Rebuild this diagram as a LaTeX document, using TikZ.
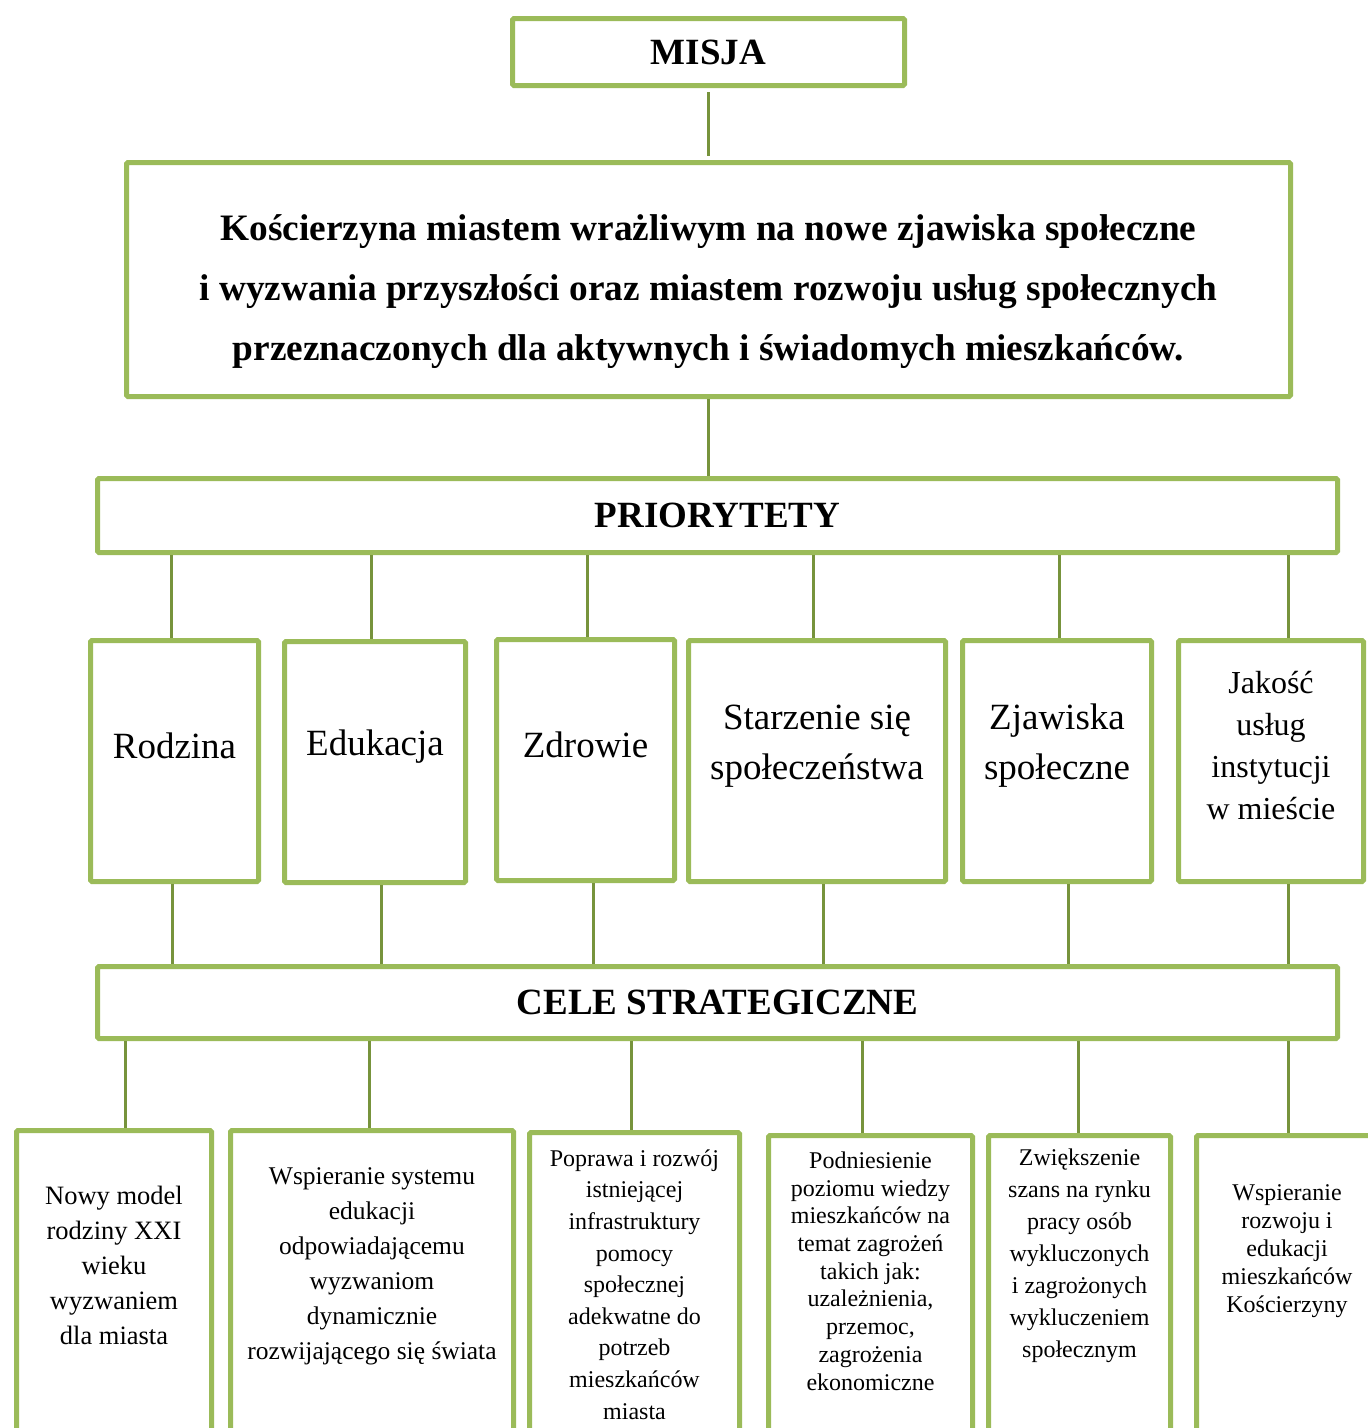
\documentclass[tikz,border=0pt]{standalone}
\usepackage{fontspec}
\setmainfont{Liberation Serif}
\definecolor{boxgreen}{HTML}{9BBB59}
\definecolor{linegreen}{HTML}{77933C}
\tikzset{
  frame/.style={draw=boxgreen, line width=5pt, rounded corners=1.5pt, inner sep=0pt},
  head/.style={frame, font=\bfseries\fontsize{37}{44}\selectfont},
  prbox/.style={frame, minimum height=241pt},
  prtext/.style={align=center, font=\fontsize{37}{50}\selectfont},
  celbox/.style={frame, anchor=north, minimum height=400pt},
  celtext/.style={align=center},
  link/.style={draw=linegreen, line width=3pt},
}
\begin{document}
\begin{tikzpicture}[x=1pt, y=-1pt]
\clip (0,0) rectangle (1368,1428);
% mission and vision
\node[head, minimum width=392pt, minimum height=67pt] (misja) at (708.5,52) {MISJA};
\node[frame, minimum width=1164pt, minimum height=234pt] (wizja) at (708.5,279.5) {};
\node[align=center, font=\bfseries\fontsize{37.3}{60}\selectfont] (wizja-t)
  at ([yshift=-12pt]wizja.center)
  {Kościerzyna miastem wrażliwym na nowe zjawiska społeczne\\
   i wyzwania przyszłości oraz miastem rozwoju usług społecznych\\
   przeznaczonych dla aktywnych i świadomych mieszkańców.};
\node[head, minimum width=1240pt, minimum height=74pt] (prio) at (717.5,515.5) {PRIORYTETY};
\node[head, minimum width=1240pt, minimum height=72pt] (cele) at (717.5,1002.5) {CELE STRATEGICZNE};
\draw[link, shorten <=4pt, shorten >=4pt] (misja.south) -- (wizja.north);
\draw[link] (wizja.south) -- (wizja.south |- prio.north);
% priorities
\node[prbox, minimum width=168pt] (rodzina) at (174.5,761) {};
\node[prbox, minimum width=181pt] (edukacja) at (375,762) {};
\node[prbox, minimum width=178pt] (zdrowie) at (585.5,760) {};
\node[prbox, minimum width=257pt] (starzenie) at (817,761) {};
\node[prbox, minimum width=189pt] (zjawiska) at (1057,761) {};
\node[prbox, minimum width=185pt] (jakosc) at (1271,761) {};
\node[prtext] (rodzina-t) at ([yshift=15pt]rodzina.center) {Rodzina};
\node[prtext] (edukacja-t) at ([yshift=15pt]edukacja.center) {Edukacja};
\node[prtext] (zdrowie-t) at ([yshift=15pt]zdrowie.center) {Zdrowie};
\node[prtext] (starzenie-t) at ([yshift=15pt]starzenie.center) {Starzenie się\\społeczeństwa};
\node[prtext] (zjawiska-t) at ([yshift=15pt]zjawiska.center) {Zjawiska\\społeczne};
\node[prtext, font=\fontsize{32}{42}\selectfont] (jakosc-t) at ([yshift=15pt]jakosc.center)
  {Jakość\\usług\\instytucji\\w mieście};
\foreach \name/\dx in {rodzina/-3.5, edukacja/-4, zdrowie/1.5, starzenie/-4, zjawiska/2, jakosc/17}{
  \coordinate (up) at ([xshift=\dx pt]\name.north);
  \draw[link] (up |- prio.south) -- (up);
}
\foreach \name/\dx in {rodzina/-2.5, edukacja/6, zdrowie/7.5, starzenie/6, zjawiska/11, jakosc/17}{
  \coordinate (down) at ([xshift=\dx pt]\name.south);
  \draw[link] (down) -- (down |- cele.north);
}
% strategic goals
\node[celbox, minimum width=195pt] (cel1) at (114,1128) {};
\node[celbox, minimum width=283pt] (cel2) at (372,1128) {};
\node[celbox, minimum width=210pt] (cel3) at (634.5,1130) {};
\node[celbox, minimum width=204pt] (cel4) at (870.5,1133) {};
\node[celbox, minimum width=182pt] (cel5) at (1079.5,1133) {};
\node[celbox, minimum width=183pt] (cel6) at (1288,1133) {};
\node[celtext, font=\fontsize{26.5}{35}\selectfont] (cel1-t) at (114,1265)
  {Nowy model\\rodziny XXI\\wieku\\wyzwaniem\\dla miasta};
\node[celtext, font=\fontsize{25.5}{35}\selectfont] (cel2-t) at (372,1266)
  {Wspieranie systemu\\edukacji\\odpowiadającemu\\wyzwaniom\\dynamicznie\\rozwijającego się świata};
\node[celtext, font=\fontsize{24}{31.6}\selectfont] (cel3-t) at (634.5,1284.5)
  {Poprawa i rozwój\\istniejącej\\infrastruktury\\pomocy\\społecznej\\adekwatne do\\potrzeb\\mieszkańców\\miasta};
\node[celtext, font=\fontsize{24}{27.7}\selectfont] (cel4-t) at (870.5,1271)
  {Podniesienie\\poziomu wiedzy\\mieszkańców na\\temat zagrożeń\\takich jak:\\uzależnienia,\\przemoc,\\zagrożenia\\ekonomiczne};
\node[celtext, font=\fontsize{24}{32}\selectfont] (cel5-t) at (1079.5,1255.5)
  {Zwiększenie\\szans na rynku\\pracy osób\\wykluczonych\\i zagrożonych\\wykluczeniem\\społecznym};
\node[celtext, font=\fontsize{24}{28}\selectfont] (cel6-t) at (1287,1251)
  {Wspieranie\\rozwoju i\\edukacji\\mieszkańców\\Kościerzyny};
\foreach \name/\dx in {cel1/11, cel2/-3, cel3/-3.5, cel4/-8.5, cel5/-1.5, cel6/0}{
  \coordinate (goal) at ([xshift=\dx pt]\name.north);
  \draw[link] (goal |- cele.south) -- (goal);
}
\end{tikzpicture}
\end{document}
